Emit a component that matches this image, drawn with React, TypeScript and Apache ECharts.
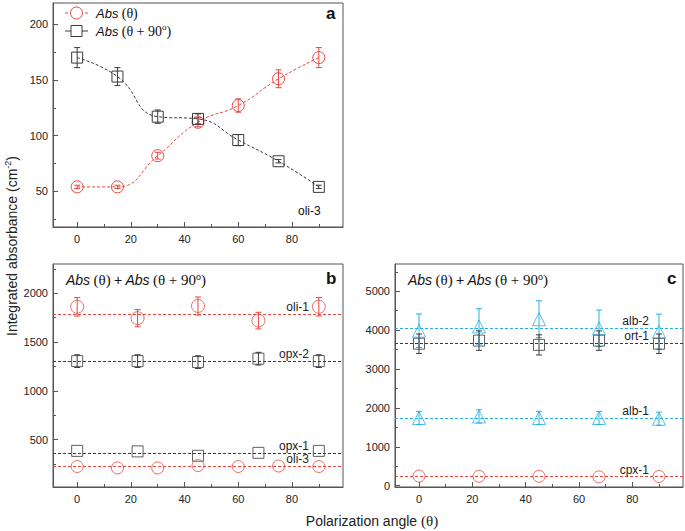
import React, { useEffect, useRef } from 'react';
import * as echarts from 'echarts';

// ---------- data ----------
// Panel a (oli-3)
const thetaA = [0, 15, 30, 45, 60, 75, 90];
const absTheta = [54, 54, 82, 112, 127, 151, 170];
const absThetaErr = [1.5, 1.5, 3, 4, 6, 8, 9];
const absTheta90 = [170, 153, 117, 115, 96, 77, 54];
const absTheta90Err = [9, 8, 6, 4.5, 5, 1.5, 1.5];

// Panel b
const thetaB = [0, 22.5, 45, 67.5, 90];
const oli1 = [1862, 1745, 1870, 1720, 1862];
const oli1Err = [95, 88, 92, 85, 95];
const opx2 = [1305, 1305, 1295, 1330, 1305];
const opx2Err = [65, 65, 65, 65, 65];
const opx1 = [385, 380, 335, 365, 385];
const oli3Sum = [225, 210, 210, 235, 225, 230, 225];
const bMeans = { oli1: 1790, opx2: 1307, opx1: 365, oli3: 228 };

// Panel c
const thetaC = [0, 22.5, 45, 67.5, 90];
const alb2 = [3985, 4095, 4280, 4045, 3960];
const alb2Err = [430, 455, 475, 470, 450];
const ort1 = [3650, 3730, 3620, 3730, 3650];
const ort1Err = [250, 250, 260, 250, 250];
const alb1 = [1740, 1780, 1740, 1740, 1720];
const alb1Err = [170, 170, 170, 170, 170];
const cpx1 = [245, 240, 240, 225, 235];
const cMeans = { alb2: 4050, ort1: 3670, alb1: 1730, cpx1: 235 };

// tick labels
const xMajor = [0, 20, 40, 60, 80];
const xMinor = [10, 30, 50, 70, 90];
const yaMajor = [50, 100, 150, 200];
const yaMinor = [25, 75, 125, 175];
const ybMajor = [500, 1000, 1500, 2000];
const ybMinor = [250, 750, 1250, 1750, 2250];
const ycMajor = [0, 1000, 2000, 3000, 4000, 5000];
const ycMinor = [500, 1500, 2500, 3500, 4500, 5500];

// ---------- styles ----------
const RED = '#e8473e';
const BLACK = '#3a3a3a';
const CYAN = '#27b1e2';
const AX = '#555';
const SANS = 'Liberation Sans, Arial, sans-serif';
const SERIF = 'Liberation Serif, Times New Roman, serif';
const DASH = [3, 2];

const pair = (xs: number[], ys: number[]) => xs.map((x, i) => [x, ys[i]]);
const plain = (v: number) => String(v);

function errSeries(ax: number, xs: number[], ys: number[], errs: number[], color: string) {
  return {
    type: 'custom',
    xAxisIndex: ax,
    yAxisIndex: ax,
    silent: true,
    z: 4,
    data: xs.map((x, i) => [x, ys[i], errs[i]]),
    encode: { x: 0, y: 1 },
    renderItem: (params: any, api: any) => {
      const x = api.value(0);
      const y = api.value(1);
      const e = api.value(2);
      const t = api.coord([x, y + e]);
      const b = api.coord([x, y - e]);
      const w = 3;
      const st = { stroke: color, lineWidth: 1 };
      return {
        type: 'group',
        children: [
          { type: 'line', shape: { x1: t[0], y1: t[1], x2: b[0], y2: b[1] }, style: st },
          { type: 'line', shape: { x1: t[0] - w, y1: t[1], x2: t[0] + w, y2: t[1] }, style: st },
          { type: 'line', shape: { x1: b[0] - w, y1: b[1], x2: b[0] + w, y2: b[1] }, style: st },
        ],
      };
    },
  };
}

function hollow(color: string) {
  return { color: 'rgba(0,0,0,0)', borderColor: color, borderWidth: 1 };
}

function scatterWithMean(
  ax: number,
  xs: number[],
  ys: number[],
  symbol: string,
  size: number,
  color: string,
  mean: number,
  name: string
) {
  return {
    type: 'scatter',
    xAxisIndex: ax,
    yAxisIndex: ax,
    symbol,
    symbolSize: size,
    itemStyle: hollow(color),
    z: 5,
    data: pair(xs, ys),
    markLine: {
      silent: true,
      symbol: ['none', 'none'],
      animation: false,
      lineStyle: { color, type: DASH, width: 1 },
      label: {
        show: true,
        position: 'insideEndTop',
        formatter: name,
        color: '#222',
        fontSize: 12,
        fontFamily: SANS,
        distance: 1,
        padding: [0, 33, 0, 0],
      },
      data: [{ yAxis: mean }],
    },
  };
}

function xAxes(grid: number) {
  const common = {
    gridIndex: grid,
    type: 'value',
    min: -9,
    max: 99,
    position: 'bottom',
    splitLine: { show: false },
  };
  return [
    {
      ...common,
      axisLine: { show: true, onZero: false, lineStyle: { color: AX } },
      axisTick: { show: true, inside: true, length: 5, customValues: xMajor, lineStyle: { color: AX } },
      axisLabel: { customValues: xMajor, formatter: plain, fontSize: 11, color: '#222', fontFamily: SANS, margin: 6 },
    },
    {
      ...common,
      axisLine: { show: false, onZero: false },
      axisTick: { show: true, inside: true, length: 3, customValues: xMinor, lineStyle: { color: AX } },
      axisLabel: { show: false },
    },
  ];
}

function yAxes(grid: number, min: number, max: number, major: number[], minor: number[]) {
  const common = {
    gridIndex: grid,
    type: 'value',
    min,
    max,
    position: 'left',
    splitLine: { show: false },
  };
  return [
    {
      ...common,
      axisLine: { show: true, onZero: false, lineStyle: { color: AX } },
      axisTick: { show: true, inside: true, length: 5, customValues: major, lineStyle: { color: AX } },
      axisLabel: { customValues: major, formatter: plain, fontSize: 11, color: '#222', fontFamily: SANS, margin: 5 },
    },
    {
      ...common,
      axisLine: { show: false, onZero: false },
      axisTick: { show: true, inside: true, length: 3, customValues: minor, lineStyle: { color: AX } },
      axisLabel: { show: false },
    },
  ];
}

const richT = {
  i: { fontStyle: 'italic', fontFamily: SANS, fontSize: 13, fill: '#111', lineHeight: 18 },
  s: { fontFamily: SERIF, fontSize: 14, fill: '#111', lineHeight: 18 },
  p: { fontFamily: SANS, fontSize: 13, fill: '#111', lineHeight: 18 },
  sup: { fontFamily: SERIF, fontSize: 9, fill: '#111', verticalAlign: 'top', lineHeight: 8 },
};
const richTitle = {
  i: { fontStyle: 'italic', fontFamily: SANS, fontSize: 14, fill: '#111', lineHeight: 18 },
  s: { fontFamily: SERIF, fontSize: 15, fill: '#111', lineHeight: 18 },
  p: { fontFamily: SANS, fontSize: 14, fill: '#111', lineHeight: 18 },
  sup: { fontFamily: SERIF, fontSize: 10, fill: '#111', verticalAlign: 'top', lineHeight: 8 },
};
const sumTitle = '{i|Abs} {s|(θ)} {p|+} {i|Abs} {s|(θ + 90}{sup|o}{s|)}';

function panelText(x: number, y: number, text: string, extra: any = {}) {
  return {
    type: 'text',
    x,
    y,
    silent: true,
    style: { text, textAlign: 'left', textVerticalAlign: 'middle', fill: '#111', ...extra },
  };
}

const graphics: any[] = [
  // panel letters
  panelText(326, 13, 'a', { font: `bold 17px ${SANS}` }),
  panelText(326, 278, 'b', { font: `bold 17px ${SANS}` }),
  panelText(667, 278, 'c', { font: `bold 17px ${SANS}` }),
  // panel a note
  panelText(298, 211, 'oli-3', { font: `12px ${SANS}` }),
  // titles of b and c
  panelText(66, 280, sumTitle, { rich: richTitle }),
  panelText(408, 280, sumTitle, { rich: richTitle }),
  // legend of a
  { type: 'line', silent: true, shape: { x1: 65, y1: 13, x2: 88, y2: 13 }, style: { stroke: RED, lineWidth: 1, lineDash: DASH } },
  { type: 'circle', silent: true, shape: { cx: 76.5, cy: 13, r: 6 }, style: { stroke: RED, fill: '#fff', lineWidth: 1 } },
  panelText(96, 13, '{i|Abs} {s|(θ)}', { rich: richT }),
  { type: 'line', silent: true, shape: { x1: 65, y1: 31, x2: 88, y2: 31 }, style: { stroke: BLACK, lineWidth: 1 } },
  { type: 'rect', silent: true, shape: { x: 71, y: 25.5, width: 11, height: 11 }, style: { stroke: BLACK, fill: '#fff', lineWidth: 1 } },
  panelText(96, 31, '{i|Abs} {s|(θ + 90}{sup|o}{s|)}', { rich: richT }),
  // axis titles
  {
    type: 'text',
    silent: true,
    x: 372,
    y: 521,
    style: {
      text: '{t|Polarization angle }{s|(θ)}',
      fill: '#222',
      textAlign: 'center',
      textVerticalAlign: 'middle',
      rich: {
        t: { fontFamily: SANS, fontSize: 14, fill: '#222' },
        s: { fontFamily: SERIF, fontSize: 15, fill: '#222' },
      },
    },
  },
  {
    type: 'text',
    silent: true,
    x: 12,
    y: 246,
    rotation: Math.PI / 2,
    style: {
      text: '{t|Integrated absorbance (cm}{sup|-2}{t|)}',
      fill: '#222',
      textAlign: 'center',
      textVerticalAlign: 'middle',
      rich: {
        t: { fontFamily: SANS, fontSize: 14, fill: '#222', lineHeight: 18 },
        sup: { fontFamily: SANS, fontSize: 9, fill: '#222', verticalAlign: 'top', lineHeight: 8 },
      },
    },
  },
];

const option: any = {
  animation: false,
  backgroundColor: '#fff',
  grid: [
    { left: 53, top: 3, width: 290, height: 224, show: true, borderColor: AX, borderWidth: 1 },
    { left: 53, top: 264, width: 290, height: 223, show: true, borderColor: AX, borderWidth: 1 },
    { left: 395, top: 264, width: 288, height: 223, show: true, borderColor: AX, borderWidth: 1 },
  ],
  xAxis: [...xAxes(0), ...xAxes(1), ...xAxes(2)],
  yAxis: [
    ...yAxes(0, 18, 219, yaMajor, yaMinor),
    ...yAxes(1, 15, 2300, ybMajor, ybMinor),
    ...yAxes(2, -35, 5700, ycMajor, ycMinor),
  ],
  graphic: graphics,
  series: [
    // ---- panel a ----
    {
      type: 'line',
      xAxisIndex: 0,
      yAxisIndex: 0,
      smooth: 0.5,
      symbol: 'circle',
      symbolSize: 12,
      itemStyle: hollow(RED),
      lineStyle: { color: RED, width: 1, type: DASH },
      z: 5,
      data: pair(thetaA, absTheta),
    },
    {
      type: 'line',
      xAxisIndex: 0,
      yAxisIndex: 0,
      smooth: 0.5,
      symbol: 'rect',
      symbolSize: 11,
      itemStyle: hollow(BLACK),
      lineStyle: { color: BLACK, width: 1, type: DASH },
      z: 5,
      data: pair(thetaA, absTheta90),
    },
    errSeries(0, thetaA, absTheta, absThetaErr, RED),
    errSeries(0, thetaA, absTheta90, absTheta90Err, BLACK),
    // ---- panel b ----
    scatterWithMean(2, thetaB, oli1, 'circle', 13, RED, bMeans.oli1, 'oli-1'),
    errSeries(2, thetaB, oli1, oli1Err, RED),
    scatterWithMean(2, thetaB, opx2, 'rect', 11, BLACK, bMeans.opx2, 'opx-2'),
    errSeries(2, thetaB, opx2, opx2Err, BLACK),
    scatterWithMean(2, thetaB, opx1, 'rect', 11, BLACK, bMeans.opx1, 'opx-1'),
    scatterWithMean(2, thetaA, oli3Sum, 'circle', 12, RED, bMeans.oli3, 'oli-3'),
    // ---- panel c ----
    scatterWithMean(4, thetaC, alb2, 'triangle', 13, CYAN, cMeans.alb2, 'alb-2'),
    errSeries(4, thetaC, alb2, alb2Err, CYAN),
    scatterWithMean(4, thetaC, ort1, 'rect', 11, BLACK, cMeans.ort1, 'ort-1'),
    errSeries(4, thetaC, ort1, ort1Err, BLACK),
    scatterWithMean(4, thetaC, alb1, 'triangle', 13, CYAN, cMeans.alb1, 'alb-1'),
    errSeries(4, thetaC, alb1, alb1Err, CYAN),
    scatterWithMean(4, thetaC, cpx1, 'circle', 12, RED, cMeans.cpx1, 'cpx-1'),
  ],
};

export default function App() {
  const ref = useRef<HTMLDivElement>(null);
  useEffect(() => {
    if (!ref.current) return;
    const chart = echarts.init(ref.current, null, { renderer: 'svg' });
    chart.setOption(option);
    return () => chart.dispose();
  }, []);
  return (
    <div
      ref={ref}
      style={{ position: 'fixed', left: 0, top: 0, width: 685, height: 531, background: '#fff' }}
    />
  );
}
